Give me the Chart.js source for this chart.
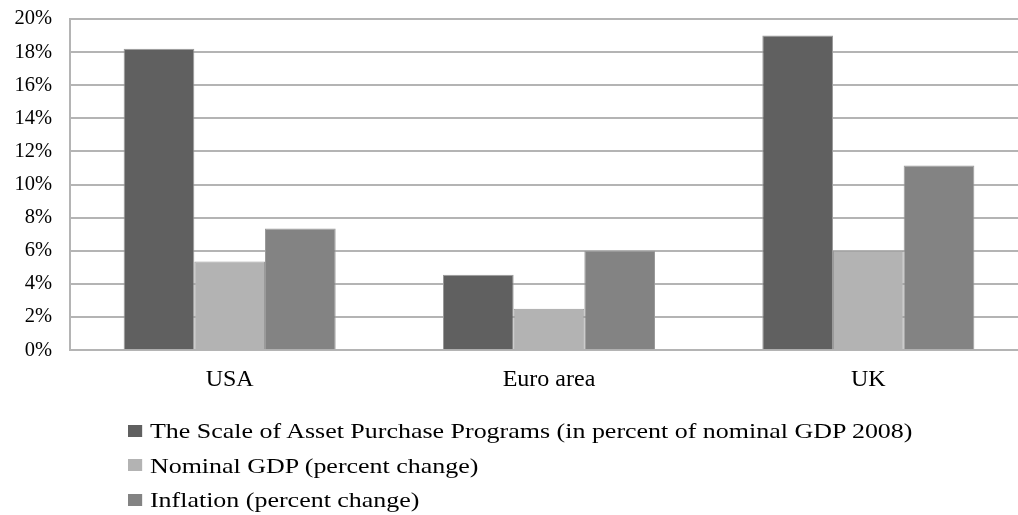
<!DOCTYPE html>
<html>
<head>
<meta charset="utf-8">
<script src="https://cdn.jsdelivr.net/npm/chart.js@4.4.0/dist/chart.umd.min.js"></script>
<style>
  html, body { margin: 0; padding: 0; background: #fff; overflow: hidden; }
  body { width: 1018px; height: 515px; position: relative; }
  #wrap { position: absolute; left: 0; top: 0; width: 1040px; height: 420px; }
  #legend { position: absolute; left: 128px; top: 414px; font-family: "Liberation Serif", serif; font-size: 22px; color: #000;
            transform: scaleX(1.18); transform-origin: left top; }
  .item { height: 34.5px; line-height: 34.5px; white-space: nowrap; }
  .box { display: inline-block; width: 12px; height: 12px; margin-right: 6.6px; vertical-align: middle; position: relative; top: -2px; }
</style>
</head>
<body>
<div id="wrap"><canvas id="chart"></canvas></div>
<div id="legend"></div>
<script>
// categories and series (percent)
const regions = ["USA", "Euro area", "UK"];
const seriesNames = [
  "The Scale of Asset Purchase Programs (in percent of nominal GDP 2008)",
  "Nominal GDP (percent change)",
  "Inflation (percent change)"
];
const assetPurchases = [18.2, 4.55, 19.0];
const nominalGdp = [5.35, 2.5, 6.0];
const inflation = [7.35, 6.0, 11.15];
const seriesColors = ["#606060", "#b3b3b3", "#838383"];

const font = "'Liberation Serif', 'Times New Roman', serif";

const chartConfig = {
  type: "bar",
  data: {
    labels: regions,
    datasets: [assetPurchases, nominalGdp, inflation].map((vals, i) => ({
      label: seriesNames[i],
      data: vals,
      backgroundColor: seriesColors[i],
      borderColor: "#9a9a9a",
      borderWidth: 1,
      barPercentage: 1.0,
      categoryPercentage: 0.664,
    })),
  },
  options: {
    responsive: true,
    maintainAspectRatio: false,
    animation: false,
    layout: { padding: { top: 19, right: 12, bottom: 11, left: 0 } },
    plugins: {
      legend: { display: false },
      tooltip: { enabled: false },
    },
    scales: {
      x: {
        grid: { display: false, drawTicks: false },
        border: { display: true, color: "#b4b4b4", width: 2 },
        ticks: { color: "#000", font: { family: font, size: 24 }, padding: 15 },
      },
      y: {
        min: 0,
        max: 20,
        afterFit: (scale) => {
          // fixed axis width, and don't let the tick labels push the plot down
          scale.width = 70;
          scale.paddingTop = 0;
          scale.paddingBottom = 0;
        },
        grid: { color: "#b4b4b4", lineWidth: 2, drawTicks: false },
        border: { display: true, color: "#b4b4b4", width: 2 },
        ticks: {
          stepSize: 2,
          color: "#000",
          padding: 18,
          font: { family: font, size: 20.5 },
          callback: (v) => v + "%",
        },
      },
    },
  },
};

new Chart(document.getElementById("chart"), chartConfig);

// legend, stacked and left aligned as in the original
const legend = document.getElementById("legend");
seriesNames.forEach((name, i) => {
  const row = document.createElement("div");
  row.className = "item";
  row.innerHTML = `<span class="box" style="background:${seriesColors[i]}"></span>${name}`;
  legend.appendChild(row);
});
</script>
</body>
</html>
